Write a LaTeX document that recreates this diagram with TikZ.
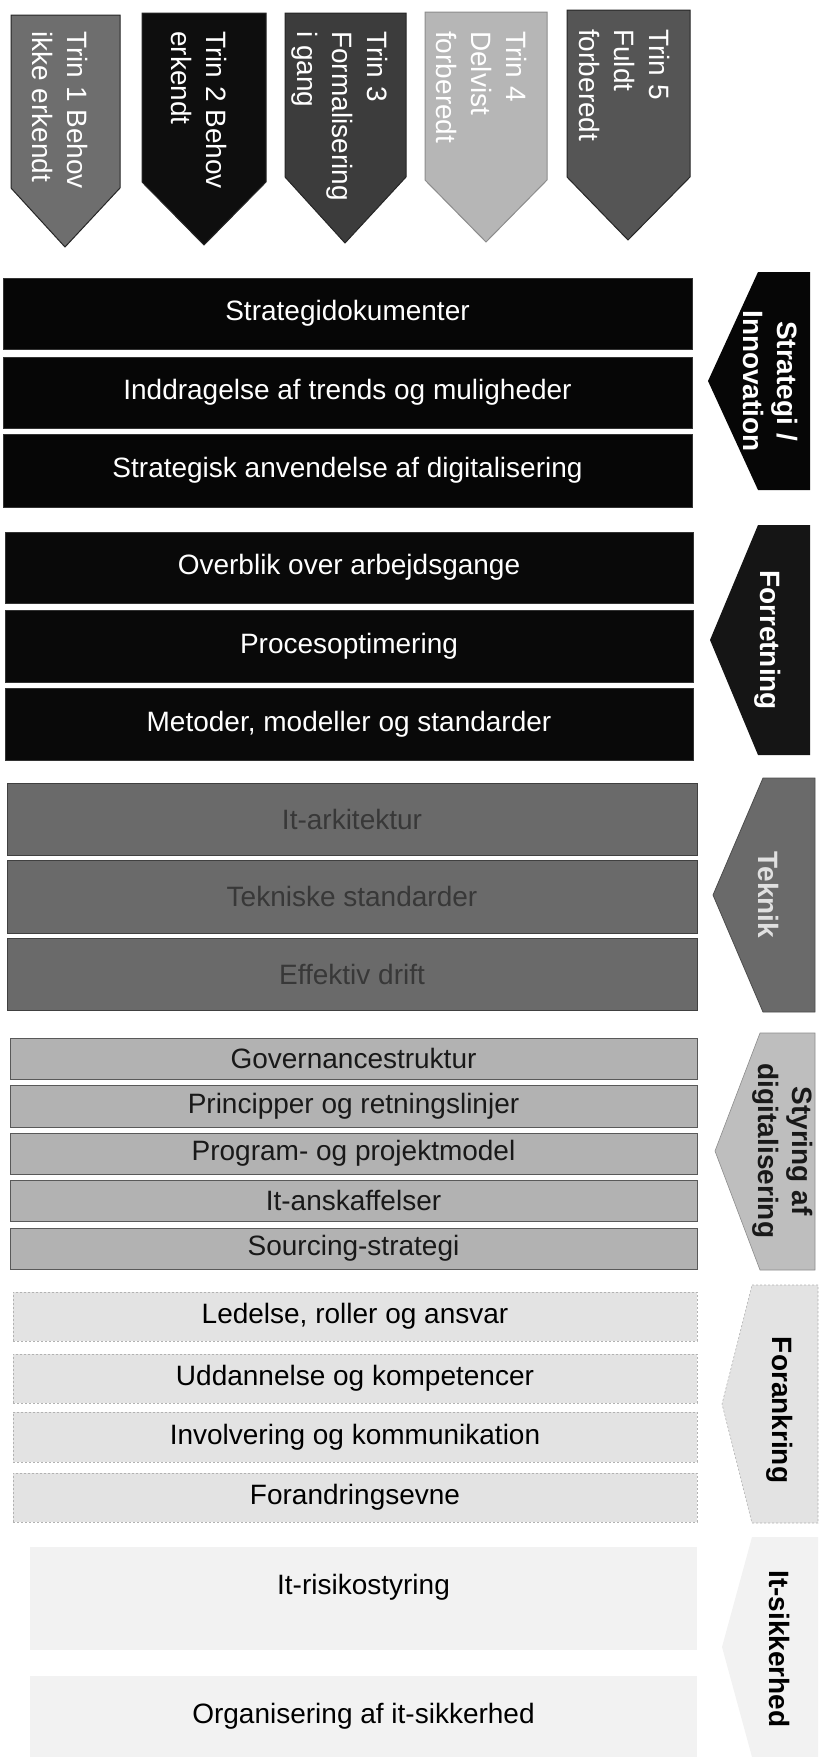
\documentclass[tikz,border=0pt]{standalone}
\usepackage{fontspec}
\setmainfont{Liberation Sans}
\definecolor{tA}{HTML}{6E6E6E}
\definecolor{tB}{HTML}{0E0E0E}
\definecolor{tC}{HTML}{3C3C3C}
\definecolor{tD}{HTML}{B6B6B6}
\definecolor{tE}{HTML}{555555}
\definecolor{secS}{HTML}{060606}
\definecolor{secF}{HTML}{090909}
\definecolor{secT}{HTML}{6A6A6A}
\definecolor{secG}{HTML}{B2B2B2}
\definecolor{secA}{HTML}{E3E3E3}
\definecolor{secI}{HTML}{F2F2F2}
\newcommand\mybar[7]{%
  \node[barbox,#6,minimum width={#4-#2},minimum height={#5-#3}] (#1) at ({(#2+#4)/2},{(#3+#5)/2}) {#7};}
\begin{document}
\begin{tikzpicture}[x=1pt,y=-1pt,
  barbox/.style={rectangle,inner sep=0pt,font=\fontsize{28}{34}\selectfont},
  barS/.style={fill=secS,draw=black!80,line width=0.6pt,text=white},
  barF/.style={fill=secF,draw=black!80,line width=0.6pt,text=white},
  barT/.style={fill=secT,draw=black!75,line width=1pt,text=black!78},
  barG/.style={fill=secG,draw=black!65,line width=1pt,text=black!90},
  barA/.style={fill=secA,draw=black!30,dash pattern=on 2pt off 2pt,line width=0.6pt,text=black},
  barI/.style={fill=secI,text=black},
  chevtxt/.style={rotate=-90,align=center,inner sep=0pt,font=\fontsize{28}{34}\selectfont\bfseries},
  trintxt/.style={rotate=-90,anchor=west,align=left,inner sep=0pt,text=white,font=\fontsize{28}{35}\selectfont},
  trinbox/.style={draw=black!85,line width=1pt}
]
\useasboundingbox (0,0) rectangle (824,1757);

% ---- top stage arrows ----
\filldraw[trinbox,fill=tA] (11,15) -- (120,15) -- (120,188) -- (65,247) -- (11,188) -- cycle;
\node[trintxt] (trin1) at (60,31) {Trin 1 Behov\\ikke erkendt};
\filldraw[trinbox,fill=tB] (142,13) -- (266,13) -- (266,182) -- (204,245) -- (142,182) -- cycle;
\node[trintxt] (trin2) at (199,31) {Trin 2 Behov\\erkendt};
\filldraw[trinbox,fill=tC] (285,13) -- (406,13) -- (406,177) -- (345,243) -- (285,177) -- cycle;
\node[trintxt] (trin3) at (340,31) {Trin 3\\Formalisering\\i gang};
\filldraw[trinbox,fill=tD,draw=black!45] (425,12) -- (547,12) -- (547,180) -- (486,242) -- (425,180) -- cycle;
\node[trintxt] (trin4) at (482,31) {Trin 4\\Delvist\\forberedt};
\filldraw[trinbox,fill=tE] (567,10) -- (690,10) -- (690,177) -- (628,240) -- (567,177) -- cycle;
\node[trintxt] (trin5) at (625,29) {Trin 5\\Fuldt\\forberedt};

% ---- Strategi / Innovation ----
\mybar{s1}{3}{278}{692}{349}{barS}{Strategidokumenter}
\mybar{s2}{3}{357}{692}{428}{barS}{Inddragelse af trends og muligheder}
\mybar{s3}{3}{434}{692}{507}{barS}{Strategisk anvendelse af digitalisering}
\fill[secS] (758,272) -- (810,272) -- (810,490) -- (758,490) -- (708,381) -- cycle;
\node[chevtxt,text=white] (cS) at (771,381) {Strategi /\\Innovation};

% ---- Forretning ----
\mybar{f1}{5}{532}{693}{603}{barF}{Overblik over arbejdsgange}
\mybar{f2}{5}{610}{693}{682}{barF}{Procesoptimering}
\mybar{f3}{5}{688}{693}{760}{barF}{Metoder, modeller og standarder}
\fill[secF!95!white] (758,525) -- (810,525) -- (810,755) -- (758,755) -- (710,640) -- cycle;
\node[chevtxt,text=white] (cF) at (768,640) {Forretning};

% ---- Teknik ----
\mybar{t1}{7}{783}{697}{855}{barT}{It-arkitektur}
\mybar{t2}{7}{860}{697}{933}{barT}{Tekniske standarder}
\mybar{t3}{7}{938}{697}{1010}{barT}{Effektiv drift}
\filldraw[fill=secT,draw=black!70,line width=0.8pt] (763,778) -- (815,778) -- (815,1012) -- (763,1012) -- (713,895) -- cycle;
\node[chevtxt,text=white!88!black] (cT) at (768,895) {Teknik};

% ---- Styring af digitalisering ----
\mybar{g1}{10}{1038}{697}{1079}{barG}{Governancestruktur}
\mybar{g2}{10}{1085}{697}{1127}{barG}{Principper og retningslinjer}
\mybar{g3}{10}{1133}{697}{1174}{barG}{Program- og projektmodel}
\mybar{g4}{10}{1180}{697}{1221}{barG}{It-anskaffelser}
\mybar{g5}{10}{1228}{697}{1269}{barG}{Sourcing-strategi}
\filldraw[fill=secG!85!white,draw=black!45,line width=0.6pt] (760,1033) -- (815,1033) -- (815,1270) -- (760,1270) -- (715,1151) -- cycle;
\node[chevtxt,text=black!90] (cG) at (783,1151) {Styring af\\digitalisering};

% ---- Forankring ----
\mybar{a1}{13}{1292}{697}{1341}{barA}{Ledelse, roller og ansvar}
\mybar{a2}{13}{1354}{697}{1403}{barA}{Uddannelse og kompetencer}
\mybar{a3}{13}{1412}{697}{1462}{barA}{Involvering og kommunikation}
\mybar{a4}{13}{1473}{697}{1522}{barA}{Forandringsevne}
\filldraw[fill=secA,draw=black!30,dash pattern=on 2pt off 2pt,line width=0.6pt] (752,1285) -- (818,1285) -- (818,1523) -- (752,1523) -- (722,1404) -- cycle;
\node[chevtxt,text=black] (cA) at (780,1410) {Forankring};

% ---- It-sikkerhed ----
\mybar{i1}{30}{1547}{697}{1650}{barI,text depth=28pt}{It-risikostyring}
\mybar{i2}{30}{1676}{697}{1757}{barI}{Organisering af it-sikkerhed}
\fill[secI] (752,1537) -- (818,1537) -- (818,1757) -- (752,1757) -- (722,1647) -- cycle;
\node[chevtxt,text=black] (cI) at (780,1649) {It-sikkerhed};
\end{tikzpicture}
\end{document}
